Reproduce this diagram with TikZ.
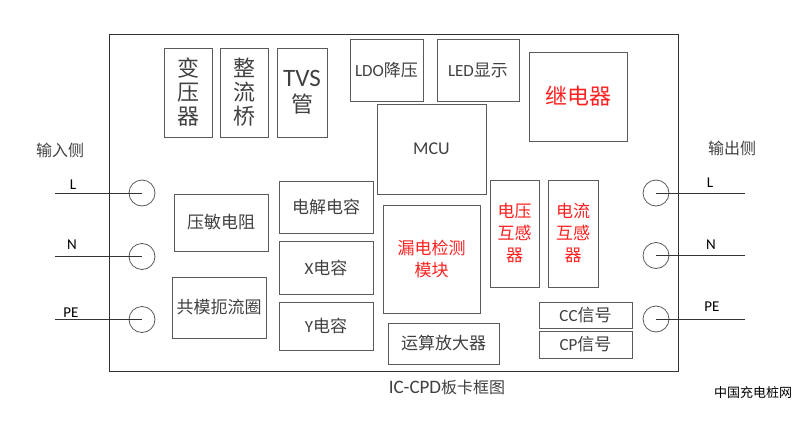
\documentclass[tikz,border=0pt]{standalone}
\usepackage{fontspec}
\setmainfont{Carlito}
\newfontfamily\cjk{Noto Sans CJK SC}
\definecolor{txt}{HTML}{404040}
\definecolor{edge}{HTML}{5A5A5A}
\definecolor{rd}{HTML}{FF2020}
\newcommand{\zh}[1]{{\cjk #1}}
\begin{document}
\begin{tikzpicture}[x=1pt,y=-1pt,
  blk/.style={draw=edge,line width=0.9pt,inner sep=0pt,align=center,text=txt,font=\fontsize{17}{22}\selectfont},
  big/.style={font=\fontsize{22}{24}\selectfont},
  small/.style={font=\fontsize{17}{20}\selectfont},
  redt/.style={text=rd},
  term/.style={circle,draw=edge,line width=0.8pt,minimum size=26pt,inner sep=0pt},
  wire/.style={draw=black!80,line width=0.8pt},
  lbl/.style={text=black,font=\fontsize{15}{17}\selectfont,inner sep=0pt},
  captext/.style={text=txt,font=\fontsize{16}{18}\selectfont,inner sep=0pt}]
\useasboundingbox (0,0) rectangle (800,423);
% board
\node[draw=black!80,line width=0.9pt,minimum width=569pt,minimum height=336.5pt,inner sep=0pt] (board) at (393.5,202.75) {};
% top row
\node[blk,big,minimum width=48pt,minimum height=89pt] (trans) at (188,92.5) {\zh{变}\\\zh{压}\\\zh{器}};
\node[blk,big,minimum width=48pt,minimum height=89pt] (rect) at (244,92.5) {\zh{整}\\\zh{流}\\\zh{桥}};
\node[blk,minimum width=50pt,minimum height=89pt,font=\fontsize{22}{26}\selectfont] (tvs) at (302,92.5) {{\fontsize{25}{26}\selectfont TVS}\\\zh{管}};
\node[blk,small,minimum width=73pt,minimum height=62pt] (ldo) at (386.5,70) {LDO\zh{降压}};
\node[blk,small,minimum width=82pt,minimum height=62pt] (led) at (478,70) {LED\zh{显示}};
\node[blk,big,redt,minimum width=98pt,minimum height=89pt] (relay) at (578,96.5) {\zh{继电器}};
\node[blk,minimum width=109pt,minimum height=90pt,font=\fontsize{18}{20}\selectfont] (mcu) at (431.5,149) {MCU};
% middle
\node[blk,minimum width=94pt,minimum height=57pt] (mov) at (221,222.5) {\zh{压敏电阻}};
\node[blk,minimum width=94pt,minimum height=61pt] (cmc) at (219,307.5) {\zh{共模扼流圈}};
\node[blk,minimum width=94pt,minimum height=52pt] (ecap) at (326,207) {\zh{电解电容}};
\node[blk,minimum width=94pt,minimum height=53pt] (xcap) at (326,267.5) {X\zh{电容}};
\node[blk,minimum width=94pt,minimum height=48pt] (ycap) at (326,326) {Y\zh{电容}};
\node[blk,redt,minimum width=97pt,minimum height=108pt] (leak) at (431.5,259) {\zh{漏电检测}\\\zh{模块}};
\node[blk,redt,minimum width=49pt,minimum height=107pt] (vt) at (514.5,233.5) {\zh{电压}\\\zh{互感}\\\zh{器}};
\node[blk,redt,minimum width=50pt,minimum height=107pt] (ct) at (573,233.5) {\zh{电流}\\\zh{互感}\\\zh{器}};
\node[blk,minimum width=93pt,minimum height=26pt] (cc) at (585.5,315) {CC\zh{信号}};
\node[blk,minimum width=93pt,minimum height=27pt] (cp) at (585.5,344.5) {CP\zh{信号}};
\node[blk,minimum width=111pt,minimum height=41pt] (opamp) at (443.5,343.5) {\zh{运算放大器}};
% terminals
\node[term] (inL) at (142,193) {};
\node[term] (inN) at (142,256.5) {};
\node[term] (inPE) at (142,319.5) {};
\node[term] (outL) at (656,193) {};
\node[term] (outN) at (656,255.5) {};
\node[term] (outPE) at (656,319) {};
\coordinate (wInL) at (55,193);
\coordinate (wInN) at (55,256.5);
\coordinate (wInPE) at (55,319.5);
\coordinate (wOutL) at (745,193);
\coordinate (wOutN) at (745,255.5);
\coordinate (wOutPE) at (745,319);
\draw[wire] (wInL) -- (inL.center);
\draw[wire] (wInN) -- (inN.center);
\draw[wire] (wInPE) -- (inPE.center);
\draw[wire] (wOutL) -- (outL.center);
\draw[wire] (wOutN) -- (outN.center);
\draw[wire] (wOutPE) -- (outPE.center);
% labels
\node[lbl] (lL) at (73,185) {L};
\node[lbl] (lN) at (72,245) {N};
\node[lbl] (lPE) at (71,313) {PE};
\node[lbl] (rL) at (710,183) {L};
\node[lbl] (rN) at (711,245) {N};
\node[lbl] (rPE) at (712,307) {PE};
\node[captext] (inside) at (60,150) {\zh{输入侧}};
\node[captext] (outside) at (732,148) {\zh{输出侧}};
\node[captext] (title) at (447,387) {{\fontsize{19}{20}\selectfont IC-CPD}\zh{板卡框图}};
\node[text=black,font=\fontsize{13}{15}\selectfont,inner sep=0pt] (mark) at (753,393) {\zh{中国充电桩网}};
\end{tikzpicture}
\end{document}
